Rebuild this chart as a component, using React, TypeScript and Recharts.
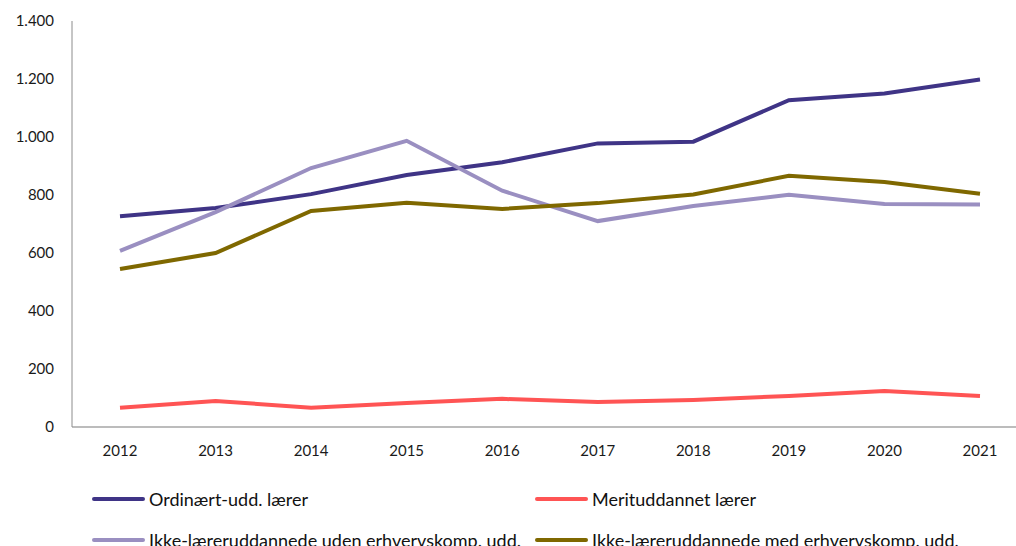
import React from 'react';
import { LineChart, Line, XAxis, YAxis } from 'recharts';

const YEARS = ['2012', '2013', '2014', '2015', '2016', '2017', '2018', '2019', '2020', '2021'];
const ORDINAERT = [727, 755, 803, 869, 913, 978, 984, 1127, 1150, 1198];
const MERIT = [66, 90, 66, 83, 97, 86, 93, 107, 124, 107];
const UDEN = [607, 741, 893, 987, 815, 710, 762, 801, 769, 767];
const MED = [545, 600, 745, 773, 752, 772, 802, 866, 845, 804];
const Y_TICKS = [0, 200, 400, 600, 800, 1000, 1200, 1400];

const SERIES = [
  { key: 'ord', name: 'Ordinært-udd. lærer', color: '#3f3486', values: ORDINAERT },
  { key: 'merit', name: 'Merituddannet lærer', color: '#ff5454', values: MERIT },
  { key: 'uden', name: 'Ikke-læreruddannede uden erhvervskomp. udd.', color: '#9a8fc1', values: UDEN },
  { key: 'med', name: 'Ikke-læreruddannede med erhvervskomp. udd.', color: '#7f6800', values: MED },
];

const data = YEARS.map((year, i) => {
  const row: Record<string, string | number> = { year };
  SERIES.forEach((s) => {
    row[s.key] = s.values[i];
  });
  return row;
});

const FONT = 'Lato, "Open Sans", sans-serif';

// Danish thousands separator
const fmt = (v: number) => String(v).replace(/\B(?=(\d{3})+(?!\d))/g, '.');

const LegendBox = () => (
  <div
    style={{
      position: 'absolute',
      left: 92,
      top: 488,
      display: 'grid',
      gridTemplateColumns: '443px 440px',
      rowGap: 19,
      fontFamily: FONT,
      fontSize: 18,
      color: '#111',
    }}
  >
    {SERIES.map((s) => (
      <div key={s.key} style={{ display: 'flex', alignItems: 'center', height: 22, whiteSpace: 'nowrap' }}>
        <span
          style={{
            display: 'inline-block',
            width: 53,
            height: 4,
            borderRadius: 2,
            background: s.color,
            marginRight: 4,
          }}
        />
        <span>{s.name}</span>
      </div>
    ))}
  </div>
);

export default function App() {
  return (
    <div style={{ position: 'absolute', left: 0, top: 0, width: 1016, height: 546, overflow: 'hidden', background: '#fff' }}>
      <LineChart width={1016} height={467} data={data} margin={{ top: 21, right: 0, bottom: 0, left: 0 }}>
        <XAxis
          dataKey="year"
          padding={{ left: 48, right: 36 }}
          tickLine={false}
          axisLine={{ stroke: '#a6a6a6', strokeWidth: 1.5 }}
          tick={{ fill: '#1a1a1a', fontSize: 15, fontFamily: FONT }}
          tickMargin={12}
          height={40}
          interval={0}
        />
        <YAxis
          domain={[0, 1400]}
          ticks={Y_TICKS}
          tickFormatter={fmt}
          tickLine={false}
          axisLine={{ stroke: '#8c8c8c', strokeWidth: 1 }}
          tick={{ fill: '#1a1a1a', fontSize: 15, fontFamily: FONT }}
          tickMargin={12}
          width={72}
          interval={0}
        />
        {SERIES.map((s) => (
          <Line
            key={s.key}
            dataKey={s.key}
            name={s.name}
            stroke={s.color}
            strokeWidth={4}
            dot={false}
            activeDot={false}
            isAnimationActive={false}
          />
        ))}
      </LineChart>
      <LegendBox />
    </div>
  );
}
